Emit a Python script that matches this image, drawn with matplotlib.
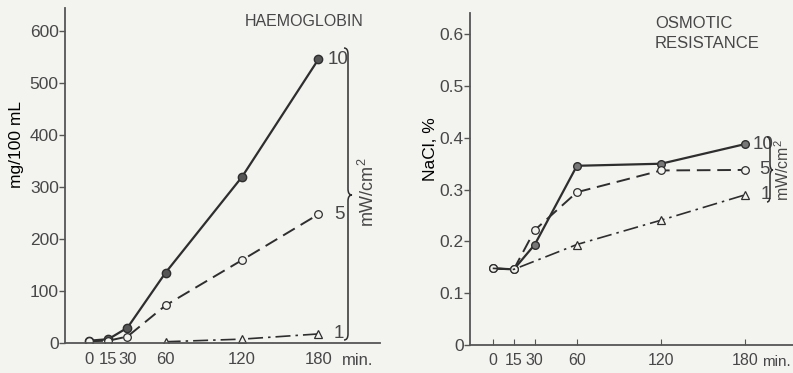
import numpy as np
import matplotlib
matplotlib.use("Agg")
import matplotlib.pyplot as plt
from matplotlib.path import Path
from matplotlib.patches import PathPatch

# ---- data ----
hb_time = [0, 15, 30, 60, 120, 180]
hb_10 = [5, 8, 30, 136, 320, 546]
hb_5 = [4, 5, 13, 73, 160, 248]
hb_1_time = [60, 120, 180]
hb_1 = [3, 8, 18]

osm_time = [0, 15, 30, 60, 120, 180]
osm_10 = [0.148, 0.146, 0.194, 0.346, 0.350, 0.388]
osm_5 = [0.148, 0.146, 0.222, 0.295, 0.337, 0.338]
osm_1_time = [0, 15, 60, 120, 180]
osm_1 = [0.148, 0.146, 0.194, 0.241, 0.290]

hb_yticks = [0, 100, 200, 300, 400, 500, 600]
osm_yticks = [0, 0.1, 0.2, 0.3, 0.4, 0.5, 0.6]
osm_yticklabels = ["0", "0.1", "0.2", "0.3", "0.4", "0.5", "0.6"]
time_labels = ["0", "15", "30", "60", "120", "180"]

BG = "#f3f3f0"
INK = "#2e2e2e"
AXC = "#555555"
TXT = "#474747"
W, H = 793, 373

plt.rcParams["font.family"] = ["Liberation Sans", "DejaVu Sans"]
plt.rcParams["mathtext.fontset"] = "custom"
plt.rcParams["mathtext.rm"] = "Liberation Sans"
plt.rcParams["text.color"] = TXT
plt.rcParams["axes.edgecolor"] = AXC
plt.rcParams["xtick.color"] = AXC
plt.rcParams["ytick.color"] = AXC
plt.rcParams["xtick.labelcolor"] = TXT
plt.rcParams["ytick.labelcolor"] = TXT

fig = plt.figure(figsize=(W / 100, H / 100), dpi=100, facecolor=BG)


def px_axes(x0, y_top, x1, y_bot):
    return fig.add_axes([x0 / W, (H - y_bot) / H, (x1 - x0) / W, (y_bot - y_top) / H])


def brace(x0, y_top, y_bot, y_tip, w=6):
    # curly brace in figure pixels (image coords, y down)
    xm = x0 + w / 2
    r = min(6, (y_bot - y_top) / 6)
    pts = [(x0, y_top), (xm, y_top), (xm, y_top + r), (xm, y_tip - r),
           (xm, y_tip), (x0 + w, y_tip), (xm, y_tip), (xm, y_tip + r),
           (xm, y_bot - r), (xm, y_bot), (x0, y_bot)]
    codes = [Path.MOVETO, Path.CURVE3, Path.CURVE3, Path.LINETO,
             Path.CURVE3, Path.CURVE3, Path.CURVE3, Path.CURVE3,
             Path.LINETO, Path.CURVE3, Path.CURVE3]
    verts = [(x / W, (H - y) / H) for x, y in pts]
    fig.add_artist(PathPatch(Path(verts, codes), transform=fig.transFigure,
                             fill=False, edgecolor=INK, linewidth=1.1))


def style(ax):
    ax.set_facecolor(BG)
    ax.spines["top"].set_visible(False)
    ax.spines["right"].set_visible(False)
    ax.spines["left"].set_linewidth(1.3)
    ax.spines["bottom"].set_linewidth(1.3)


# ---- Panel A: haemoglobin ----
ax1 = px_axes(65, 8, 380, 343.3)
style(ax1)
ax1.plot(hb_time, hb_10, "-", color=INK, lw=1.6, marker="o", ms=6,
         mfc="#555555", mec=INK, mew=1.0)
ax1.plot(hb_time, hb_5, color=INK, lw=1.4, ls=(0, (7, 3.5)), marker="o", ms=5.5,
         mfc=BG, mec=INK, mew=0.9)
ax1.plot(hb_1_time, hb_1, color=INK, lw=1.2, ls=(0, (9, 3, 1.5, 3)), marker="^", ms=6,
         mfc=BG, mec=INK, mew=0.9)
ax1.set_xlim(-19.1, 228.5)
ax1.set_ylim(0, 645)
ax1.set_xticks(hb_time)
ax1.set_xticklabels(time_labels)
ax1.tick_params(axis="x", length=0, labelsize=12, pad=6)
ax1.set_yticks(hb_yticks)
ax1.tick_params(axis="y", length=4, width=1.0, direction="out", labelsize=12.5, pad=0.5)
ax1.annotate("min.", xy=(180, 0), xytext=(24, -17), textcoords="offset pixels",
             ha="left", va="center", fontsize=12, annotation_clip=False)
ax1.set_ylabel("mg/100 mL", fontsize=12.5)
ax1.yaxis.set_label_coords(-0.13, 0.594)
fig.text(245 / W, (H - 21) / H, "HAEMOGLOBIN", fontsize=11.5, ha="left", va="center")
for lab, yv, dx in [("10", hb_10[-1], 9), ("5", hb_5[-1], 16), ("1", hb_1[-1], 15)]:
    ax1.annotate(lab, xy=(180, yv), xytext=(dx, 0), textcoords="offset pixels",
                 ha="left", va="center", fontsize=13.5, annotation_clip=False)
brace(344, 48, 340, 195, w=8)
fig.text(368 / W, (H - 192) / H, "mW/cm$^2$", rotation=90, fontsize=13,
         ha="center", va="center")

# ---- Panel B: osmotic resistance ----
ax2 = px_axes(470, 13, 793, 345)
style(ax2)
ax2.plot(osm_time, osm_10, "-", color=INK, lw=1.6, marker="o", ms=5.5,
         mfc="#777777", mec=INK, mew=1.0)
ax2.plot(osm_time, osm_5, color=INK, lw=1.4, ls=(0, (7, 3.5)), marker="o", ms=5.5,
         mfc=BG, mec=INK, mew=0.9)
ax2.plot(osm_1_time, osm_1, color=INK, lw=1.2, ls=(0, (9, 3, 1.5, 3)), marker="^", ms=6,
         mfc=BG, mec=INK, mew=0.9, markevery=[2, 3, 4])
ax2.set_xlim(-16.2, 214)
ax2.set_ylim(0, 0.641)
ax2.set_xticks(osm_time)
ax2.set_xticklabels(time_labels)
ax2.tick_params(axis="x", length=4, direction="in", labelsize=11.5, pad=6)
ax2.annotate("min.", xy=(180, 0), xytext=(17, -17), textcoords="offset pixels",
             ha="left", va="center", fontsize=11, annotation_clip=False)
ax2.set_yticks(osm_yticks)
ax2.set_yticklabels(osm_yticklabels)
ax2.tick_params(axis="y", length=4, width=1.0, direction="out", labelsize=12.5, pad=0.5)
ax2.set_ylabel("NaCl, %", fontsize=12.5)
ax2.yaxis.set_label_coords(-0.1, 0.59)
fig.text(655 / W, (H - 23) / H, "OSMOTIC", fontsize=12, ha="left", va="center")
fig.text(655 / W, (H - 43) / H, "RESISTANCE", fontsize=12, ha="left", va="center")
for lab, yv, dx in [("10", osm_10[-1], 7), ("5", osm_5[-1], 14), ("1", osm_1[-1], 15)]:
    ax2.annotate(lab, xy=(180, yv), xytext=(dx, 0), textcoords="offset pixels",
                 ha="left", va="center", fontsize=13.5, annotation_clip=False)
brace(767, 137, 202, 170, w=6)
fig.text(783 / W, (H - 170) / H, "mW/cm$^2$", rotation=90, fontsize=11.5,
         ha="center", va="center")

fig.savefig("out.png", dpi=100, facecolor=BG)
